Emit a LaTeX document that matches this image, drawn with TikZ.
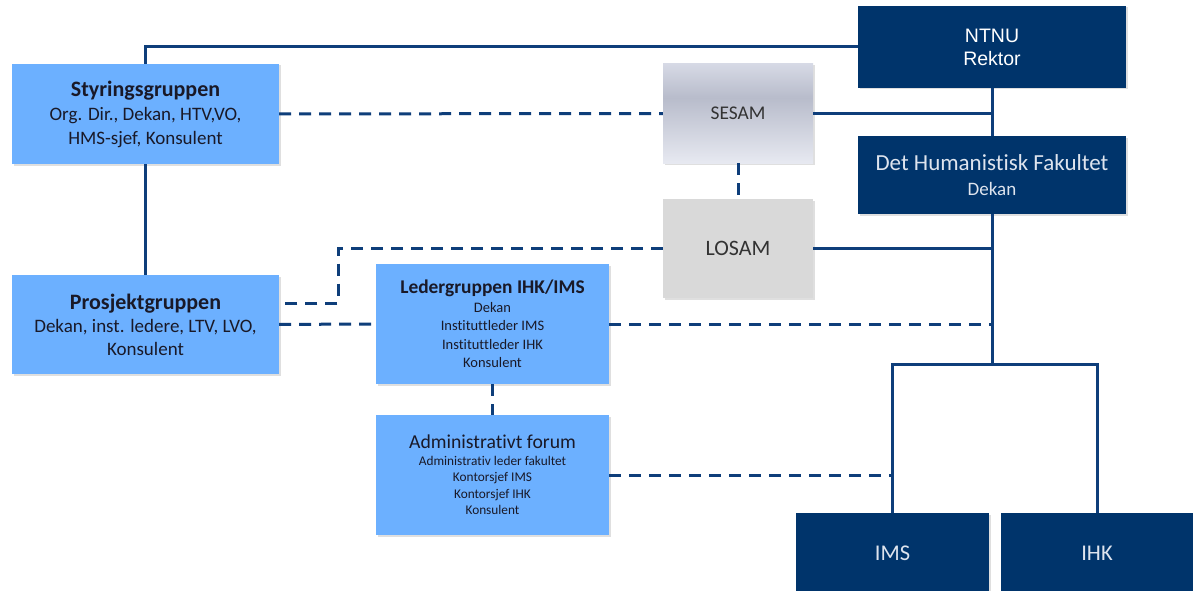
\documentclass[tikz,border=0pt]{standalone}
\usepackage{fontspec}
\setmainfont{Carlito}[Ligatures=NoCommon]
\newfontfamily\arialfont{Liberation Sans}
\usetikzlibrary{shadows}

\definecolor{navy}{RGB}{0,52,107}
\definecolor{linkblue}{RGB}{14,62,122}
\definecolor{groupblue}{RGB}{108,176,255}
\definecolor{losamgray}{RGB}{217,217,217}
\definecolor{sesamtop}{RGB}{214,217,229}
\definecolor{sesammid}{RGB}{184,188,203}
\definecolor{sesambot}{RGB}{231,233,241}
\definecolor{inkdark}{RGB}{25,25,40}
\definecolor{unittext}{RGB}{222,228,238}

\pgfdeclareverticalshading{sesamshade}{100bp}{color(0bp)=(sesambot); color(25bp)=(sesambot); color(58bp)=(sesammid); color(75bp)=(sesamtop); color(100bp)=(sesamtop)}

\begin{document}
\begin{tikzpicture} [x=1pt, y=-1pt,
    box/.style = {inner sep=0pt,
    align=center,
    drop shadow={shadow xshift=1.5pt, shadow yshift=-1.5pt, opacity=0.25}},
    unit/.style = {box, fill=navy, text=unittext},
    group/.style = {box, fill=groupblue, text=inkdark},
    council/.style = {box, text=black!80},
    link/.style = {draw=linkblue, line width=3pt},
    dashlink/.style = {link, dash pattern=on 12pt off 8pt}]

\path [fill=white] (0,0) rectangle (1193,591);
\useasboundingbox (0,0) rectangle (1193,591);

\node (ntnu) at (992,47) [unit, text=white, minimum width=268pt, minimum height=82pt, font=\arialfont\fontsize{19.5}{23}\selectfont] {NTNU\\Rektor};
\node (fak) at (992,175) [unit, minimum width=268pt, minimum height=78pt, font=\fontsize{19}{25}\selectfont] {{\fontsize{23}{25}\selectfont Det Humanistisk Fakultet}\\Dekan};

\node (sesam) at (738,113.5) [council, shading=sesamshade, minimum width=150pt, minimum height=99pt, font=\fontsize{19.4}{22}\selectfont] {SESAM};
\node (losam) at (738,248.5) [council, fill=losamgray, minimum width=150pt, minimum height=99pt, font=\fontsize{22}{24}\selectfont] {LOSAM};

\node (styr) at (145.5,114) [group, minimum width=267pt, minimum height=100pt, font=\fontsize{19}{24}\selectfont] {{\fontsize{22}{24}\selectfont\bfseries Styringsgruppen}\\Org. Dir., Dekan, HTV,VO,\\HMS-sjef, Konsulent};
\node (prosj) at (145.5,324.5) [group, minimum width=267pt, minimum height=99pt, font=\fontsize{19}{23}\selectfont] {{\fontsize{22}{24}\selectfont\bfseries Prosjektgruppen}\\Dekan, inst. ledere, LTV, LVO,\\Konsulent};

\node (leder) at (492.5,324) [group, minimum width=233pt, minimum height=120pt, font=\fontsize{14.5}{18.5}\selectfont] {{\fontsize{19.4}{20}\selectfont\bfseries Ledergruppen IHK/IMS}\\Dekan\\Instituttleder IMS\\Instituttleder IHK\\Konsulent};
\node (admin) at (492.5,475) [group, minimum width=233pt, minimum height=120pt, font=\fontsize{13.3}{16.5}\selectfont] {{\fontsize{19.7}{20}\selectfont Administrativt forum}\\Administrativ leder fakultet\\Kontorsjef IMS\\Kontorsjef IHK\\Konsulent};

\node (ims) at (892.5,553) [unit, minimum width=193pt, minimum height=80pt, font=\fontsize{22.5}{24}\selectfont] {IMS};
\node (ihk) at (1097,553) [unit, minimum width=192pt, minimum height=80pt, font=\fontsize{22.5}{24}\selectfont] {IHK};

\coordinate (fork) at (992,364);
\coordinate (knee) at (338,303);

\draw [link] (styr) |- (ntnu);
\draw [link] (styr) -- (prosj);
\draw [link] (ntnu) -- (fak);
\draw [link] (fak) -- (fork);
\draw [link] (sesam) -- (sesam -| fak);
\draw [link] (losam) -- (losam -| fak);
\draw [link] (ims) |- (fork) -| (ihk);

\draw [dashlink] (styr) -- (sesam);
\draw [dashlink] (sesam) -- (losam);
\draw [dashlink] (losam) -| (knee) -- (knee -| prosj.east);
\draw [dashlink] (prosj) -- (leder);
\draw [dashlink] (leder) -- (leder -| fak);
\draw [dashlink] (leder) -- (admin);
\draw [dashlink] (admin) -- (admin -| ims);

\end{tikzpicture}
\end{document}
